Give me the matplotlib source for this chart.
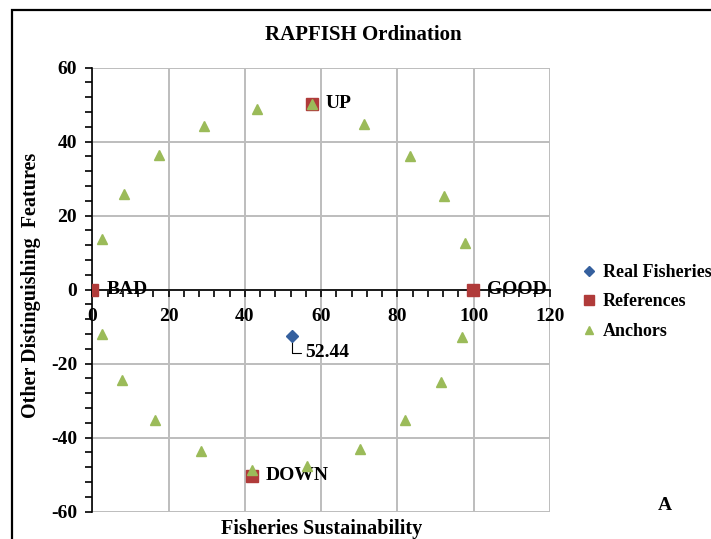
import numpy as np
import matplotlib
matplotlib.use('Agg')
import matplotlib.pyplot as plt
from matplotlib.patches import Rectangle
from matplotlib.ticker import MultipleLocator

plt.rcParams['font.family'] = ['Liberation Serif', 'DejaVu Serif']
plt.rcParams['font.weight'] = 'bold'
plt.rcParams['axes.unicode_minus'] = False

# data
real_x = [52.44]
real_y = [-12.5]
real_label = '52.44'

ref_names = ['BAD', 'GOOD', 'UP', 'DOWN']
ref_x = [0, 99.8, 57.5, 41.9]
ref_y = [0, 0, 50.2, -50.3]

anchor_x = [2.6, 8.4, 17.5, 29.3, 43.1, 57.5, 71.3, 83.4, 92.1, 97.8,
            96.8, 91.3, 82.0, 70.1, 56.3, 41.9, 28.4, 16.5, 7.7, 2.5]
anchor_y = [13.6, 25.8, 36.4, 44.2, 48.8, 50.2, 44.8, 36.2, 25.3, 12.5,
            -12.9, -25.0, -35.2, -43.1, -47.6, -48.7, -43.6, -35.2, -24.4, -12.0]

fig = plt.figure(figsize=(7.11, 5.39), dpi=100)
ax = fig.add_axes([92.3/711, 1-511.7/539, (550-92.3)/711, (511.7-67.7)/539])

#outer frame, cut off at the right and bottom like the source
fig.patches.append(Rectangle((12/711, -0.1), 1.2, 1.1-10/539, transform=fig.transFigure,
                             fill=False, edgecolor='black', lw=1.6))

ax.plot(real_x, real_y, 'D', color='#35609E', ms=6.5, label='Real Fisheries', zorder=4)
ax.plot(ref_x, ref_y, 's', color='#B03B3A', ms=8.5, label='References', zorder=4)
ax.plot(anchor_x, anchor_y, '^', color='#9BBB59', ms=7, label='Anchors', zorder=5)

for name, x, y in zip(ref_names, ref_x, ref_y):
    ax.annotate(name, xy=(x, y), xytext=(10, 0), textcoords='offset points',
                va='center', ha='left', fontsize=14, zorder=2)

ax.annotate(real_label, xy=(real_x[0], real_y[0]), xytext=(9, -12), textcoords='offset points',
            va='center', ha='left', fontsize=14,
            arrowprops=dict(arrowstyle='-', connectionstyle='angle,angleA=0,angleB=90,rad=0',
                            shrinkA=1, shrinkB=4, lw=0.8, color='black'))

ax.set_xlim(0, 120)
ax.set_ylim(-60, 60)
ax.xaxis.set_major_locator(MultipleLocator(20))
ax.yaxis.set_major_locator(MultipleLocator(20))
ax.xaxis.set_minor_locator(MultipleLocator(4))
ax.yaxis.set_minor_locator(MultipleLocator(4))
ax.grid(True, which='major', color='#BDBDBD', lw=1.4)
ax.set_axisbelow(True)

ax.spines['left'].set_position(('data', 0))
ax.spines['bottom'].set_position(('data', 0))
ax.spines['top'].set_visible(False)
ax.spines['right'].set_visible(False)
for s in ['left', 'bottom']:
    ax.spines[s].set_linewidth(1.2)
    ax.spines[s].set_zorder(3)

ax.tick_params(which='both', direction='out', width=1.2, labelsize=14)
ax.tick_params(which='major', length=5)
ax.tick_params(which='minor', length=5)
ax.tick_params(axis='x', pad=8)
ax.tick_params(axis='y', pad=6)
for lab in ax.get_xticklabels() + ax.get_yticklabels():
    lab.set_fontweight('bold')

ax.set_xlabel('Fisheries Sustainability', fontsize=14.5, fontweight='bold')
ax.xaxis.set_label_coords(0.5, -0.016)
ax.set_ylabel('Other Distinguishing  Features', fontsize=14.5, fontweight='bold')
ax.yaxis.set_label_coords(-0.112, 0.51)

fig.text(363.5/711, 1-35/539, 'RAPFISH Ordination', ha='center', va='center',
         fontsize=15, fontweight='bold')
fig.text(665/711, 1-505/539, 'A', ha='center', va='center', fontsize=14, fontweight='bold')

# the source crops "Real Fisheries" at the right edge; keep it just inside here
fig.legend(loc='center left', bbox_to_anchor=(576/711, 1-302/539), frameon=False,
           fontsize=13, handlelength=0.6, handletextpad=0.5, labelspacing=0.7,
           borderaxespad=0, markerscale=0.85)

fig.savefig('out.png', dpi=100)
